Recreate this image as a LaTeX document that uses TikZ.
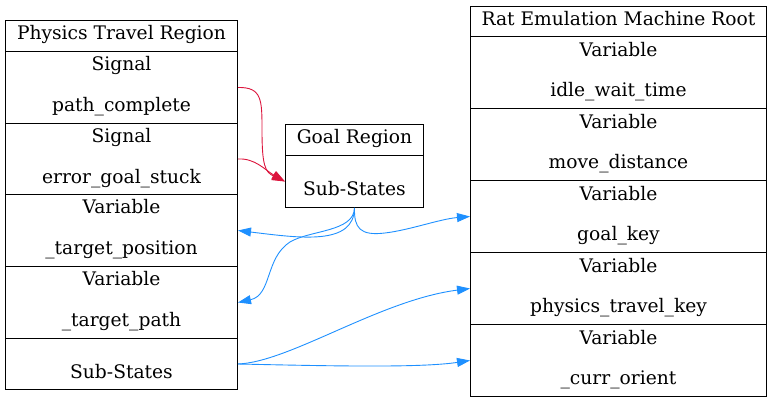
\documentclass[tikz,border=0pt]{standalone}
\usepackage{fontspec}
\setmainfont{DejaVu Serif}
\usetikzlibrary{arrows.meta,calc}
\definecolor{edgered}{RGB}{220,20,60}
\definecolor{edgeblue}{RGB}{30,144,255}
\begin{document}
\begin{tikzpicture}[x=1pt,y=-1pt,
  font=\fontsize{18.67}{22}\selectfont,
  cell/.style args={#1/#2}{draw=black, line width=1pt, inner sep=0pt, anchor=north west,
    minimum width=#1pt, minimum height=#2pt},
  txt/.style={anchor=base, inner sep=0pt},
  redge/.style={draw=edgered, line width=0.9pt, -{Triangle[length=13pt,width=9pt]}},
  bedge/.style={draw=edgeblue, line width=0.9pt, -{Triangle[length=13pt,width=9pt]}}]
\useasboundingbox (0,0) rectangle (772,403);

% Physics Travel Region
\node[cell=232/31] (pt)  at (5,20)  {};
\node[cell=232/72] (pt1) at (5,51)  {};
\node[cell=232/71] (pt2) at (5,123) {};
\node[cell=232/72] (pt3) at (5,194) {};
\node[cell=232/72] (pt4) at (5,266) {};
\node[cell=232/51] (pt5) at (5,338) {};
\node[txt] (ptT)  at ($(pt.north)+(0,20)$)  {Physics Travel Region};
\node[txt] (pt1a) at ($(pt1.north)+(0,20)$) {Signal};
\node[txt] (pt1b) at ($(pt1.north)+(0,61)$) {path\_complete};
\node[txt] (pt2a) at ($(pt2.north)+(0,20)$) {Signal};
\node[txt] (pt2b) at ($(pt2.north)+(0,61)$) {error\_goal\_stuck};
\node[txt] (pt3a) at ($(pt3.north)+(0,20)$) {Variable};
\node[txt] (pt3b) at ($(pt3.north)+(0,61)$) {\_target\_position};
\node[txt] (pt4a) at ($(pt4.north)+(0,20)$) {Variable};
\node[txt] (pt4b) at ($(pt4.north)+(0,61)$) {\_target\_path};
\node[txt] (pt5a) at ($(pt5.north)+(0,41)$) {Sub-States};

% Goal Region
\node[cell=138/31] (g)    at (285,124) {};
\node[cell=138/52] (gsub) at (285,155) {};
\node[txt] (gT) at ($(g.north)+(0,20)$)    {Goal Region};
\node[txt] (gS) at ($(gsub.north)+(0,41)$) {Sub-States};

% Rat Emulation Machine Root
\node[cell=296/30] (r)  at (470,6)   {};
\node[cell=296/72] (r1) at (470,36)  {};
\node[cell=296/72] (r2) at (470,108) {};
\node[cell=296/72] (r3) at (470,180) {};
\node[cell=296/72] (r4) at (470,252) {};
\node[cell=296/72] (r5) at (470,324) {};
\node[txt] (rT)  at ($(r.north)+(0,20)$)  {Rat Emulation Machine Root};
\node[txt] (r1a) at ($(r1.north)+(0,21)$) {Variable};
\node[txt] (r1b) at ($(r1.north)+(0,61)$) {idle\_wait\_time};
\node[txt] (r2a) at ($(r2.north)+(0,21)$) {Variable};
\node[txt] (r2b) at ($(r2.north)+(0,61)$) {move\_distance};
\node[txt] (r3a) at ($(r3.north)+(0,21)$) {Variable};
\node[txt] (r3b) at ($(r3.north)+(0,61)$) {goal\_key};
\node[txt] (r4a) at ($(r4.north)+(0,21)$) {Variable};
\node[txt] (r4b) at ($(r4.north)+(0,61)$) {physics\_travel\_key};
\node[txt] (r5a) at ($(r5.north)+(0,21)$) {Variable};
\node[txt] (r5b) at ($(r5.north)+(0,61)$) {\_curr\_orient};

% red edges
\draw[redge] (pt1.east) .. controls (262,87) and (262,100) .. (262,130)
  .. controls (262,165) and (265,172) .. (gsub.west);
\draw[redge] (pt2.east) .. controls (255,158) and (265,170) .. (gsub.west);

% blue edges
\draw[bedge] (gsub.south) .. controls (354,246) and (300,238) .. (pt3.east);
\draw[bedge] (gsub.south) .. controls (354,232) and (310,230) .. (290,242)
  .. controls (265,258) and (272,295) .. (pt4.east);
\draw[bedge] (gsub.south) .. controls (354,228) and (360,236) .. (385,233)
  .. controls (410,230) and (440,219) .. (r3.west);
\draw[bedge] (pt5.east) .. controls (290,362) and (380,300) .. (r4.west);
\draw[bedge] (pt5.east) .. controls (330,366) and (420,368) .. (r5.west);
\end{tikzpicture}
\end{document}
